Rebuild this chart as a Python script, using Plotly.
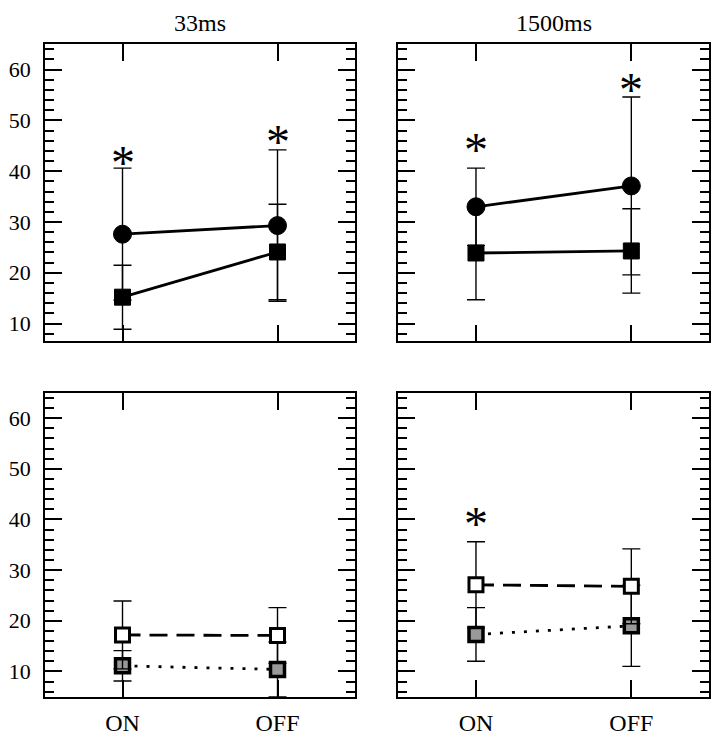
import plotly.graph_objects as go

# Conditions on the x axis
conditions = ["ON", "OFF"]

# 33 ms, upper panel
ms33_circle = [27.6, 29.3]
ms33_circle_err = [13.0, 14.9]
ms33_square = [15.2, 24.1]
ms33_square_err = [6.3, 9.4]

# 1500 ms, upper panel
ms1500_circle = [33.0, 37.1]
ms1500_circle_err = [7.6, 17.5]
ms1500_square = [23.9, 24.3]
ms1500_square_err = [9.2, 8.3]

# 33 ms, lower panel
ms33_open = [17.2, 17.1]
ms33_open_err = [6.7, 5.5]
ms33_gray = [11.1, 10.4]
ms33_gray_err = [3.0, 5.4]

# 1500 ms, lower panel
ms1500_open = [27.1, 26.8]
ms1500_open_err = [8.5, 7.4]
ms1500_gray = [17.3, 19.0]
ms1500_gray_err = [5.3, 8.0]

# Significance markers: (panel, condition, y)
stars = [
    (1, "ON", 43.4), (1, "OFF", 47.6),
    (2, "ON", 46.0), (2, "OFF", 57.9),
    (4, "ON", 41.0),
]

y_ticks = [10, 20, 30, 40, 50, 60]

FONT = "Liberation Serif"
BLACK = "black"
GRAY = "#999999"

fig = go.Figure()


def add_series(panel, y, err, symbol, fill, line_dash, msize, mline):
    xa = "x" if panel == 1 else f"x{panel}"
    ya = "y" if panel == 1 else f"y{panel}"
    fig.add_trace(go.Scatter(
        x=conditions, y=y, xaxis=xa, yaxis=ya,
        mode="lines+markers",
        line=dict(color=BLACK, width=2.8, dash=line_dash),
        marker=dict(symbol=symbol, size=msize, color=fill,
                    line=dict(color=BLACK, width=mline)),
        error_y=dict(type="data", array=err, visible=True,
                     color=BLACK, thickness=1.4, width=9),
        showlegend=False, cliponaxis=False,
    ))


add_series(1, ms33_square, ms33_square_err, "square", BLACK, "solid", 16, 1)
add_series(1, ms33_circle, ms33_circle_err, "circle", BLACK, "solid", 18, 1)
add_series(2, ms1500_square, ms1500_square_err, "square", BLACK, "solid", 16, 1)
add_series(2, ms1500_circle, ms1500_circle_err, "circle", BLACK, "solid", 18, 1)
add_series(3, ms33_gray, ms33_gray_err, "square", GRAY, "3px,9px", 14, 3.5)
add_series(3, ms33_open, ms33_open_err, "square", "white", "18px,9px", 14, 3)
add_series(4, ms1500_gray, ms1500_gray_err, "square", GRAY, "3px,9px", 14, 3.5)
add_series(4, ms1500_open, ms1500_open_err, "square", "white", "18px,9px", 14, 3)

# Panel geometry (paper fractions)
col_dom = [[0.0633, 0.4993], [0.5602, 0.9972]]
row_dom = {"top": [0.5285, 0.9389], "bottom": [0.0376, 0.4575]}
panels = {1: (0, "top"), 2: (1, "top"), 3: (0, "bottom"), 4: (1, "bottom")}
y_ranges = {"top": [6.5, 65], "bottom": [5, 65]}

common_axis = dict(
    showline=True, linecolor=BLACK, linewidth=1.5, mirror="ticks",
    ticks="inside", tickcolor=BLACK, tickwidth=1.5, ticklen=17,
    showgrid=False, zeroline=False,
)

for p, (col, row) in panels.items():
    xkey = "xaxis" if p == 1 else f"xaxis{p}"
    ykey = "yaxis" if p == 1 else f"yaxis{p}"
    ya_name = "y" if p == 1 else f"y{p}"
    xa_name = "x" if p == 1 else f"x{p}"
    fig.update_layout({
        xkey: dict(common_axis, domain=col_dom[col], anchor=ya_name,
                   type="category", range=[-0.5, 1.5],
                   categoryorder="array", categoryarray=conditions,
                   showticklabels=(row == "bottom"), ticklabelstandoff=4,
                   tickfont=dict(family=FONT, size=24, color=BLACK)),
        ykey: dict(common_axis, domain=row_dom[row], anchor=xa_name,
                   range=y_ranges[row], tickvals=y_ticks,
                   showticklabels=(col == 0), ticklabelstandoff=8,
                   tickfont=dict(family=FONT, size=22, color=BLACK),
                   minor=dict(dtick=2, tick0=0, ticks="inside", ticklen=9,
                              tickwidth=1.5, tickcolor=BLACK)),
    })

annotations = []
for p, cond, yv in stars:
    annotations.append(dict(
        x=cond, y=yv, xref="x" if p == 1 else f"x{p}",
        yref="y" if p == 1 else f"y{p}",
        text="*", showarrow=False, yshift=-9,
        font=dict(family=FONT, size=48, color=BLACK),
    ))

for title, col in [("33ms", 0), ("1500ms", 1)]:
    annotations.append(dict(
        x=sum(col_dom[col]) / 2, y=1 - 23 / 736, xref="paper", yref="paper",
        yanchor="middle", xanchor="center",
        text=title, showarrow=False,
        font=dict(family=FONT, size=24, color=BLACK),
    ))

fig.update_layout(
    width=711, height=736,
    margin=dict(l=0, r=0, t=0, b=0),
    paper_bgcolor="white", plot_bgcolor="white",
    annotations=annotations,
    font=dict(family=FONT, color=BLACK),
)

fig.write_html("out.html")
